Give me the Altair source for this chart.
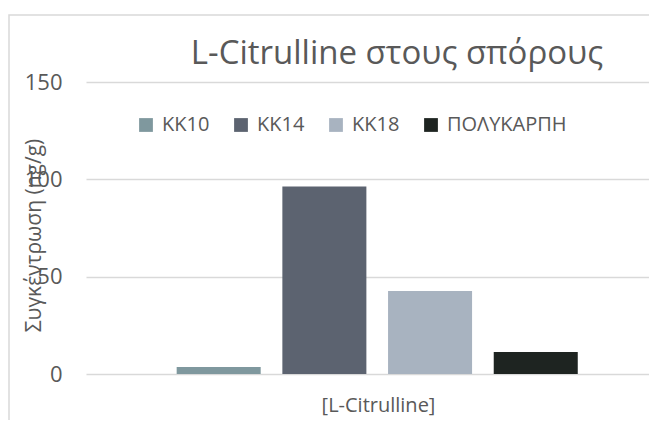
import altair as alt
import pandas as pd

series = ["KK10", "KK14", "KK18", "ΠΟΛΥΚΑΡΠΗ"]
values = [3.6, 96.3, 42.6, 11.3]
colors = ["#7f989e", "#5c6370", "#a8b3c0", "#1e2421"]
y_ticks = [0, 50, 100, 150]
chart_title = "L-Citrulline στους σπόρους"
y_title = "Συγκέντρωση (ng/g)"
x_title = "[L-Citrulline]"

df = pd.DataFrame({"series": series, "value": values})

FONT = "Open Sans"
GRAY = "#595959"

bars = alt.Chart(df).mark_bar().encode(
    x=alt.X(
        "series:N",
        sort=series,
        scale=alt.Scale(paddingInner=0.205, paddingOuter=0.766, align=0.56),
        axis=alt.Axis(
            labels=False, ticks=False, domain=False, grid=False,
            title=x_title, titleFont=FONT, titleFontSize=20,
            titleFontWeight="normal", titleColor=GRAY, titlePadding=21,
            titleX=292, titleAlign="center",
        ),
    ),
    y=alt.Y(
        "value:Q",
        scale=alt.Scale(domain=[0, 150]),
        axis=alt.Axis(
            values=y_ticks, grid=True, gridColor="#d9d9d9", gridWidth=1.3,
            domain=False, ticks=False, labelPadding=24,
            labelFont=FONT, labelFontSize=22, labelColor=GRAY,
            title=y_title, titleFont=FONT, titleFontSize=21,
            titleFontWeight="normal", titleColor=GRAY,
            titleX=-52, titleY=153, titleAlign="center", titleBaseline="middle",
            titleAngle=270,
        ),
    ),
    color=alt.Color(
        "series:N",
        sort=series,
        scale=alt.Scale(domain=series, range=colors),
        legend=alt.Legend(
            title=None, orient="none", legendX=50, legendY=33,
            direction="horizontal", symbolType="square", symbolSize=190,
            symbolStrokeWidth=0, labelFont=FONT, labelFontSize=20,
            labelColor=GRAY, labelOffset=6, columnPadding=21, padding=0,
        ),
    ),
)

border = alt.Chart(pd.DataFrame({"a": [0]})).mark_rect(
    filled=False, stroke="#d9d9d9", strokeWidth=1.5
).encode(
    x=alt.value(-77), x2=alt.value(700), y=alt.value(-67), y2=alt.value(400)
)

title = alt.Chart(pd.DataFrame({"t": [chart_title]})).mark_text(
    font=FONT, fontSize=33, color=GRAY, align="center", baseline="alphabetic"
).encode(
    text="t:N", x=alt.value(311), y=alt.value(-18)
)

chart = alt.layer(border, bars, title).properties(
    width=563, height=292,
    autosize=alt.AutoSizeParams(type="none"),
    padding={"left": 78, "top": 74, "right": 0, "bottom": 46},
).configure_view(strokeWidth=0)

chart.save("out.html", embed_options={"renderer": "svg", "actions": False})
